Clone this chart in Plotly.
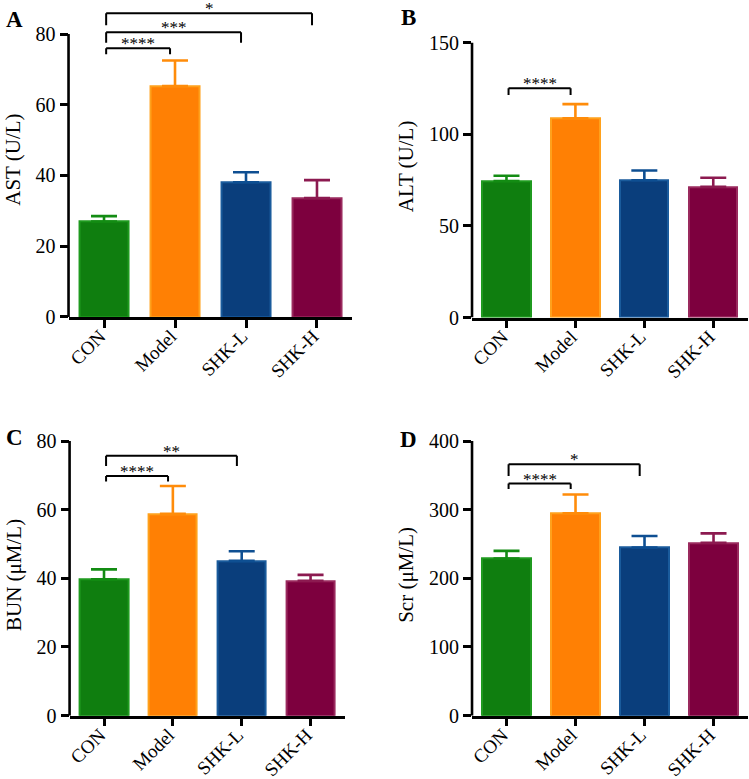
import plotly.graph_objects as go

# ---------------- data ----------------
categories = ["CON", "Model", "SHK-L", "SHK-H"]

ast_mean = [27.0, 65.3, 38.1, 33.6]
ast_err = [1.5, 7.2, 2.8, 5.1]

alt_mean = [74.5, 108.7, 74.9, 71.4]
alt_err = [2.9, 7.8, 5.4, 4.9]

bun_mean = [39.7, 58.8, 45.1, 39.3]
bun_err = [2.9, 8.1, 2.8, 1.7]

scr_mean = [229.0, 294.6, 245.0, 251.8]
scr_err = [11.0, 27.4, 16.6, 13.7]

# significance comparisons: (group_a, group_b, bracket level, leg bottom, label)
ast_sig = [(0, 1, 76.0, 74.3, "****"), (0, 2, 80.5, 77.5, "***"), (0, 3, 85.9, 82.5, "*")]
alt_sig = [(0, 1, 125.1, 121.4, "****")]
bun_sig = [(0, 1, 69.8, 68.2, "****"), (0, 2, 75.7, 72.7, "**")]
scr_sig = [(0, 1, 338.0, 330.0, "****"), (0, 2, 366.0, 349.0, "*")]

ast_ticks = [0, 20, 40, 60, 80]
alt_ticks = [0, 50, 100, 150]
bun_ticks = [0, 20, 40, 60, 80]
scr_ticks = [0, 100, 200, 300, 400]

# ---------------- styling ----------------
fill_colors = ["#0f7e0f", "#ff8004", "#0a3e7c", "#7d003e"]
edge_colors = ["#1f9a1f", "#ffa11c", "#1a5b9c", "#9a2a5e"]
err_colors = ["#138c13", "#ff8c0a", "#0e4f92", "#8c1a50"]
FONT = "Liberation Serif, Times New Roman, serif"

panels = [
    dict(mean=ast_mean, err=ast_err, sig=ast_sig, ticks=ast_ticks, title="AST (U/L)", letter="A",
         xdom=[0.0915, 0.4706], ydom=[0.5931, 0.9972], yrange=[0, 89]),
    dict(mean=alt_mean, err=alt_err, sig=alt_sig, ticks=alt_ticks, title="ALT (U/L)", letter="B",
         xdom=[0.6302, 0.9983], ydom=[0.5923, 0.9805], yrange=[0, 165]),
    dict(mean=bun_mean, err=bun_err, sig=bun_sig, ticks=bun_ticks, title="BUN (μM/L)", letter="C",
         xdom=[0.0929, 0.4606], ydom=[0.0813, 0.4427], yrange=[0, 82]),
    dict(mean=scr_mean, err=scr_err, sig=scr_sig, ticks=scr_ticks, title="Scr (μM/L)", letter="D",
         xdom=[0.6302, 0.9987], ydom=[0.0813, 0.4427], yrange=[0, 410]),
]
letter_pos = [(0.020, 0.975), (0.546, 0.977), (0.020, 0.438), (0.546, 0.436)]

fig = go.Figure()
shapes = []
annotations = []
layout_axes = {}

for p_i, p in enumerate(panels):
    sfx = "" if p_i == 0 else str(p_i + 1)
    xa, ya = "x" + sfx, "y" + sfx
    for c_i, cat in enumerate(categories):
        fig.add_trace(go.Bar(
            x=[cat], y=[p["mean"][c_i]], width=[0.70],
            marker=dict(color=fill_colors[c_i], line=dict(color=edge_colors[c_i], width=2)),
            error_y=dict(type="data", symmetric=False, array=[p["err"][c_i]], arrayminus=[0],
                         color=err_colors[c_i], thickness=2.6, width=13),
            xaxis=xa, yaxis=ya, showlegend=False,
        ))
    layout_axes["xaxis" + sfx] = dict(
        domain=p["xdom"], anchor=ya, type="category", categoryorder="array",
        categoryarray=categories, range=[-0.5, 3.5], automargin=False,
        showline=True, linecolor="black", linewidth=2.6, ticks="outside", ticklen=8,
        tickwidth=2.6, tickcolor="black", tickangle=-45, showgrid=False, zeroline=False,
        ticklabelstandoff=-10, ticklabelshift=-4,
        tickfont=dict(family=FONT, size=19, color="black"),
    )
    layout_axes["yaxis" + sfx] = dict(
        domain=p["ydom"], anchor=xa, range=p["yrange"], tickvals=p["ticks"], automargin=False,
        showline=False, ticks="outside", ticklen=8, tickwidth=2.6, tickcolor="black",
        showgrid=False, zeroline=False,
        tickfont=dict(family=FONT, size=20, color="black"),
        title=dict(text=p["title"], font=dict(family=FONT, size=21, color="black"), standoff=9),
    )
    # y axis line only up to the top tick
    shapes.append(dict(type="line", xref=xa + " domain", yref=ya, x0=0, x1=0,
                       y0=0, y1=p["ticks"][-1], line=dict(color="black", width=2.6)))
    # significance brackets
    for (a, b, lvl, leg, lab) in p["sig"]:
        x0, x1 = a + 0.03, b - 0.07
        line = dict(color="black", width=2)
        shapes.append(dict(type="line", xref=xa, yref=ya, x0=x0, x1=x1, y0=lvl, y1=lvl, line=line))
        shapes.append(dict(type="line", xref=xa, yref=ya, x0=x0, x1=x0, y0=leg, y1=lvl, line=line))
        shapes.append(dict(type="line", xref=xa, yref=ya, x0=x1, x1=x1, y0=leg, y1=lvl, line=line))
        annotations.append(dict(xref=xa, yref=ya, x=(x0 + x1) / 2, y=lvl, text=lab,
                                showarrow=False, yanchor="bottom", xanchor="center", yshift=-7,
                                font=dict(family=FONT, size=17, color="black")))
    lx, ly = letter_pos[p_i]
    annotations.append(dict(xref="paper", yref="paper", x=lx, y=ly, text="<b>" + p["letter"] + "</b>",
                            showarrow=False, xanchor="center", yanchor="middle",
                            font=dict(family=FONT, size=23, color="black")))

fig.update_layout(
    width=749, height=779, margin=dict(l=0, r=0, t=0, b=0, autoexpand=False),
    paper_bgcolor="white", plot_bgcolor="white", barmode="overlay",
    shapes=shapes, annotations=annotations, bargap=0,
    **layout_axes,
)

fig.write_html("out.html", config={"displayModeBar": False},
               post_script="document.body.style.margin='0px';")
